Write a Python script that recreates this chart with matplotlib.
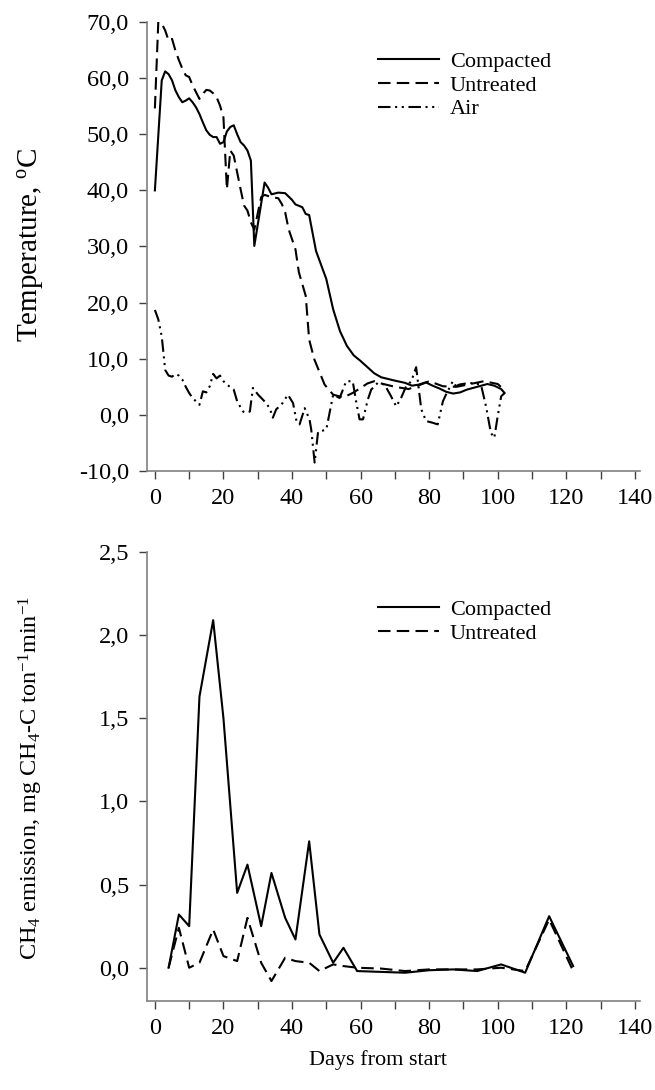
import matplotlib
matplotlib.use("Agg")
import matplotlib.pyplot as plt
from matplotlib.ticker import FuncFormatter, MultipleLocator

plt.rcParams['font.family'] = ['Liberation Serif', 'DejaVu Serif']
plt.rcParams['mathtext.fontset'] = 'custom'
plt.rcParams['mathtext.rm'] = 'Liberation Serif'
plt.rcParams['mathtext.it'] = 'Liberation Serif:italic'
plt.rcParams['mathtext.bf'] = 'Liberation Serif:bold'

# ---------------- Data: temperature ----------------
comp_day = [0, 2, 3, 4, 5, 6, 7, 8, 9, 10, 11, 12, 13, 14, 15, 16, 17, 18, 19, 20,
            21, 22, 23, 24, 25, 26, 27, 28, 29, 32, 33, 34, 36, 38, 40, 41, 43, 44,
            45, 47, 50, 52, 54, 56, 58, 60, 62, 64, 66, 68, 70, 73, 75, 77, 79, 81,
            83, 85, 87, 89, 91, 94, 97, 99, 101, 102]
comp_temp = [40.0, 59.6, 61.2, 60.7, 59.6, 57.8, 56.6, 55.7, 56.0, 56.4, 55.7, 54.8,
             53.6, 52.1, 50.7, 49.9, 49.5, 49.5, 48.3, 48.6, 50.5, 51.3, 51.6, 50.0,
             48.6, 48.0, 47.1, 45.3, 30.1, 41.4, 40.5, 39.3, 39.6, 39.5, 38.3, 37.5,
             37.0, 35.8, 35.6, 29.2, 24.2, 18.8, 14.9, 12.3, 10.6, 9.6, 8.5, 7.4, 6.7,
             6.4, 6.1, 5.7, 5.2, 5.4, 5.8, 5.2, 4.7, 4.1, 3.8, 4.0, 4.5, 5.0, 5.5,
             5.2, 4.6, 3.9]

unt_day = [0, 1, 2, 3, 4, 5, 6, 7, 8, 9, 10, 11, 12, 13, 14, 15, 16, 17, 18, 19, 20,
           21, 22, 23, 24, 25, 26, 27, 28, 29, 31, 32, 34, 36, 37, 38, 39, 41, 42,
           44, 45, 46.5, 49.5, 52, 55, 58, 60, 62, 64, 66, 70, 74, 78, 80, 84, 88,
           92, 96, 100, 102]
unt_temp = [54.6, 70.1, 69.7, 68.5, 66.7, 67.0, 64.9, 63.2, 61.7, 60.5, 60.2, 58.7,
            57.5, 56.3, 57.2, 57.9, 57.8, 57.3, 56.6, 55.1, 53.0, 40.2, 47.1, 46.2,
            43.2, 40.2, 37.3, 36.4, 34.3, 33.0, 38.8, 39.2, 38.8, 38.6, 37.6, 36.1,
            33.1, 29.5, 25.4, 21.2, 13.4, 9.9, 5.4, 3.6, 3.1, 4.0, 4.8, 5.6, 6.0,
            5.6, 5.0, 4.6, 5.5, 6.0, 5.1, 5.0, 5.5, 6.0, 5.5, 4.4]

air_day = [0, 1, 2, 3, 4, 5, 6, 7, 8, 9, 10, 11, 13, 14, 15, 16, 17, 18, 19, 20, 21,
           23, 24, 25.7, 26.6, 27.7, 28.6, 30.1, 32, 33.5, 34.4, 35.4, 36.9, 38.8,
           40.3, 41.3, 42.2, 43.7, 45.1, 45.6, 46.6, 47.6, 48.5, 50, 51, 52, 53.9,
           55.8, 57.7, 58.7, 59.7, 60.7, 62.1, 63.1, 65, 67, 68.9, 70.4, 71.8, 73.3,
           74.8, 76.2, 77.7, 79.1, 81, 82.5, 84, 84.9, 86.9, 87.8, 88.8, 91.7, 95.1,
           96.6, 98, 99, 100, 101, 102]
air_temp = [18.7, 17.0, 14.0, 8.0, 7.0, 6.8, 7.3, 7.0, 6.3, 5.0, 3.9, 3.0, 1.8, 4.2,
            4.0, 5.1, 7.3, 6.5, 7.0, 6.0, 5.4, 4.5, 2.4, 0.6, 0.4, 0.6, 4.8, 3.6,
            2.4, 1.2, -0.5, 1.0, 1.8, 3.6, 2.1, -1.1, -1.7, 1.2, -0.8, -2.6, -8.5,
            -3.0, -2.9, -2.6, 0.5, 3.6, 3.0, 6.0, 6.0, 2.4, -0.8, -0.8, 2.7, 4.5,
            5.7, 5.4, 3.3, 1.5, 3.0, 5.1, 6.0, 8.5, 1.0, -1.1, -1.4, -1.7, 2.4, 3.6,
            6.0, 5.1, 5.4, 5.7, 5.4, 1.5, -3.2, -4.1, -0.2, 3.3, 3.9]

# ---------------- Data: CH4 emission ----------------
ch4_day = [4, 7, 10, 13, 17, 20, 24, 27, 31, 34, 38, 41, 45, 48, 52, 55, 59, 66, 73,
           80, 87, 94, 101, 108, 115, 122]
comp_ch4 = [0.0, 0.32, 0.25, 1.63, 2.09, 1.50, 0.45, 0.62, 0.25, 0.57, 0.30, 0.17,
            0.76, 0.20, 0.03, 0.12, -0.02, -0.025, -0.03, -0.015, -0.01, -0.02, 0.02,
            -0.03, 0.31, 0.01]
unt_ch4 = [0.0, 0.24, 0.0, 0.03, 0.23, 0.07, 0.04, 0.30, 0.03, -0.08, 0.06, 0.04,
           0.03, -0.02, 0.02, 0.01, 0.0, -0.005, -0.02, -0.01, -0.01, -0.01, 0.0,
           -0.02, 0.29, -0.02]

xticks = [0, 20, 40, 60, 80, 100, 120, 140]
temp_ticks = [-10, 0, 10, 20, 30, 40, 50, 60, 70]
ch4_ticks = [0.0, 0.5, 1.0, 1.5, 2.0, 2.5]

FS = 16
TICK_FS = 17.5
spine_col = '#808080'

fig = plt.figure(figsize=(6.55, 10.9), dpi=100)
ax1 = fig.add_axes([147/655, 1-471/1090, 493/655, (471-22)/1090])
ax2 = fig.add_axes([147/655, 1-1001/1090, 493/655, (1001-552)/1090])

lw = 1.5
dashes = (6, 3)
airdash = (6, 2.2, 1, 2.2, 1, 2.2)

ax1.plot(comp_day, comp_temp, color='black', lw=lw, label='Compacted')
ax1.plot(unt_day, unt_temp, color='black', lw=lw, dashes=dashes, label='Untreated')
ax1.plot(air_day, air_temp, color='black', lw=lw, dashes=airdash, label='Air')

ax2.plot(ch4_day, comp_ch4, color='black', lw=lw, label='Compacted')
ax2.plot(ch4_day, unt_ch4, color='black', lw=lw, dashes=dashes, label='Untreated')

def fmt1(v, p):
    return ('%.1f' % v).replace('.', ',')

for ax, ytop in ((ax1, 0.954), (ax2, 0.914)):
    ax.set_xlim(-2.3, 141.5)
    ax.set_xticks(xticks)
    ax.xaxis.set_minor_locator(MultipleLocator(10))
    for s in ('top', 'right'):
        ax.spines[s].set_visible(False)
    for s in ('left', 'bottom'):
        ax.spines[s].set_color(spine_col)
        ax.spines[s].set_linewidth(1.2)
    ax.tick_params(axis='both', which='both', direction='out', length=6, width=1,
                   color='#404040', labelsize=TICK_FS)
    ax.tick_params(axis='x', which='both', pad=6)
    ax.tick_params(axis='y', pad=7)
    ax.yaxis.set_major_formatter(FuncFormatter(fmt1))
    ax.legend(loc='upper left', bbox_to_anchor=(0.45, ytop), frameon=False,
              fontsize=FS, handlelength=2.75, handletextpad=0.5,
              labelspacing=0.14, borderaxespad=0)

ax1.set_ylim(-10, 70)
ax1.set_yticks(temp_ticks)
ax2.set_ylim(-0.2, 2.5)
ax2.set_yticks(ch4_ticks)

fig.text(31/655, 1-245/1090, 'Temperature, $^{\\mathrm{o}}$C', rotation=90,
         ha='center', va='center', fontsize=21)
fig.text(31/655, 1-778/1090,
         'CH$_4$ emission, mg CH$_4$-C ton$^{-1}$min$^{-1}$', rotation=90,
         ha='center', va='center', fontsize=17.5)
fig.text(378/655, 1-1060/1090, 'Days from start', ha='center', va='center',
         fontsize=FS)

fig.savefig('out.png', dpi=100)
